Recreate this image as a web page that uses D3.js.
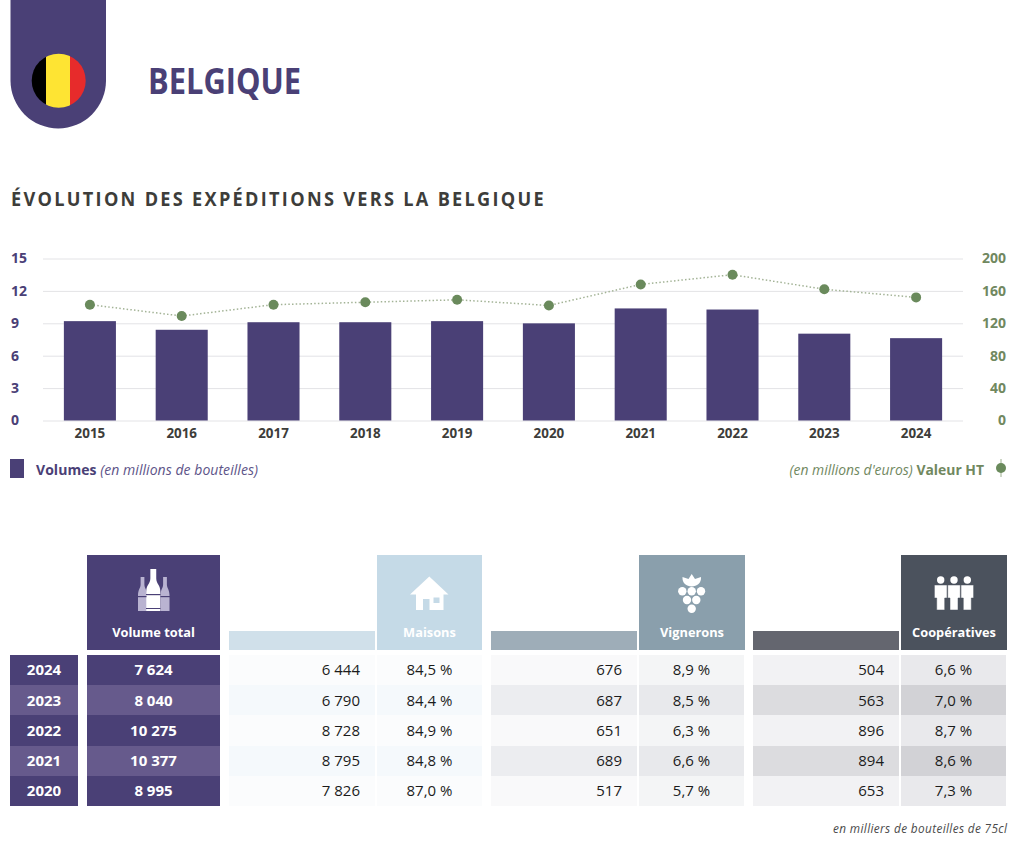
<!DOCTYPE html>
<html><head><meta charset="utf-8">
<script src="https://cdn.jsdelivr.net/npm/d3@7"></script>
<style>
html,body{margin:0;padding:0;background:#fff}
svg{display:block}
text{font-family:"Open Sans","Noto Sans",sans-serif}
</style></head><body>
<svg id="c" width="1031" height="851"></svg>
<script>
const years = ["2015","2016","2017","2018","2019","2020","2021","2022","2023","2024"];
const volumes = [9.2,8.4,9.1,9.1,9.2,8.995,10.377,10.275,8.04,7.624];
const valeurs = [143,129,143,146,149,142,168,180,162,152];
const leftTicks = [0,3,6,9,12,15];
const rightTicks = [0,40,80,120,160,200];

const tableYears = ["2024","2023","2022","2021","2020"];
const totals = ["7 624","8 040","10 275","10 377","8 995"];
const maisonsVol = ["6 444","6 790","8 728","8 795","7 826"];
const maisonsPct = ["84,5 %","84,4 %","84,9 %","84,8 %","87,0 %"];
const vigneronsVol = ["676","687","651","689","517"];
const vigneronsPct = ["8,9 %","8,5 %","6,3 %","6,6 %","5,7 %"];
const coopVol = ["504","563","896","894","653"];
const coopPct = ["6,6 %","7,0 %","8,7 %","8,6 %","7,3 %"];

const PURPLE="#4a4076", PURPLE2="#665a8c", GREEN="#6a8a5c", GREEN_T="#71885f", DARK="#3d3d3a";
const svg=d3.select("#c");

// Badge + flag
svg.append("path").attr("d","M10.5,0H106V80.5A47.75,48 0 0 1 10.5,80.5Z").attr("fill",PURPLE);
const defs=svg.append("defs");
defs.append("clipPath").attr("id","flag").append("circle").attr("cx",58.7).attr("cy",80.7).attr("r",27);
const flag=svg.append("g").attr("clip-path","url(#flag)");
flag.append("rect").attr("x",30).attr("y",50).attr("width",16).attr("height",62).attr("fill","#000");
flag.append("rect").attr("x",46).attr("y",50).attr("width",24).attr("height",62).attr("fill","#fee433");
flag.append("rect").attr("x",70).attr("y",50).attr("width",18).attr("height",62).attr("fill","#e72b2b");

svg.append("text").attr("x",148).attr("y",94).attr("fill",PURPLE)
  .attr("font-size",35).attr("font-weight",700).attr("textLength",153).attr("lengthAdjust","spacingAndGlyphs").text("BELGIQUE");
svg.append("text").attr("x",11).attr("y",206).attr("fill",DARK)
  .attr("font-size",19).attr("font-weight",700).attr("textLength",535).attr("lengthAdjust","spacingAndGlyphs").attr("letter-spacing",2.4).text("ÉVOLUTION DES EXPÉDITIONS VERS LA BELGIQUE");

// Chart
const x=d3.scaleBand().domain(years).range([44,962]).paddingInner(0.433).paddingOuter(0.2165);
const yL=d3.scaleLinear().domain([0,15]).range([420.5,258.5]);
const yR=d3.scaleLinear().domain([0,200]).range([420.5,258.5]);

const gL=svg.append("g").attr("transform","translate(43,0)")
  .call(d3.axisLeft(yL).tickValues(leftTicks).tickSize(-920).tickFormat(d3.format("d")));
gL.select(".domain").remove();
gL.selectAll("line").attr("stroke","#e3e3e6").attr("stroke-width",1);
gL.selectAll("text").attr("x",-32).attr("text-anchor","start").attr("font-size",14).attr("font-weight",700)
  .attr("fill",PURPLE).style("font-family",'"Open Sans"');

const gR=svg.append("g").attr("transform","translate(963,0)")
  .call(d3.axisRight(yR).tickValues(rightTicks).tickSize(0).tickFormat(d3.format("d")));
gR.select(".domain").remove();
gR.selectAll("text").attr("x",43).attr("text-anchor","end").attr("font-size",14).attr("font-weight",700)
  .attr("fill",GREEN_T).style("font-family",'"Open Sans"');

svg.append("g").selectAll("rect").data(years).join("rect")
  .attr("x",d=>x(d)).attr("width",x.bandwidth())
  .attr("y",(d,i)=>yL(volumes[i])).attr("height",(d,i)=>yL(0)-yL(volumes[i]))
  .attr("fill",PURPLE);

const gX=svg.append("g").attr("transform","translate(0,420.5)")
  .call(d3.axisBottom(x).tickSize(0).tickPadding(8));
gX.select(".domain").remove();
gX.selectAll("text").attr("font-size",13.4).attr("font-weight",700).attr("fill",DARK).style("font-family",'"Open Sans"');

const line=d3.line().x((d,i)=>x(years[i])+x.bandwidth()/2).y(d=>yR(d));
svg.append("path").datum(valeurs).attr("d",line).attr("fill","none")
  .attr("stroke","#a3b396").attr("stroke-width",1.5).attr("stroke-dasharray","1.5 2.2");
svg.append("g").selectAll("circle").data(valeurs).join("circle")
  .attr("cx",(d,i)=>x(years[i])+x.bandwidth()/2).attr("cy",d=>yR(d)).attr("r",5).attr("fill",GREEN);

// Legends
svg.append("rect").attr("x",10).attr("y",459).attr("width",14).attr("height",19).attr("fill",PURPLE);
const lt=svg.append("text").attr("x",36).attr("y",475).attr("font-size",14).attr("fill",PURPLE)
  .attr("textLength",222).attr("lengthAdjust","spacing");
lt.append("tspan").attr("font-weight",700).text("Volumes ");
lt.append("tspan").attr("font-style","italic").attr("fill","#5d5488").text("(en millions de bouteilles)");
const rt=svg.append("text").attr("x",984).attr("y",475).attr("text-anchor","end").attr("font-size",13.9).attr("fill",GREEN_T);
rt.append("tspan").attr("font-style","italic").text("(en millions d'euros) ");
rt.append("tspan").attr("font-weight",700).text("Valeur HT");
svg.append("line").attr("x1",1001).attr("x2",1001).attr("y1",459).attr("y2",477).attr("stroke","#9cae8e").attr("stroke-width",1);
svg.append("circle").attr("cx",1001).attr("cy",468).attr("r",5).attr("fill",GREEN);

// Table
const rowY=d3.scaleBand().domain(tableYears).range([655,806]);
const rowFontSize=15;
const columns=[
 {x:10,w:68,vals:tableYears,bg:[PURPLE,PURPLE2],fill:"#fff",weight:700,anchor:"middle"},
 {x:87,w:133,vals:totals,bg:[PURPLE,PURPLE2],fill:"#fff",weight:700,anchor:"middle"},
 {x:229,w:146,vals:maisonsVol,bg:["#fbfcfd","#f5f9fc"],fill:"#1c1c1c",weight:400,anchor:"end",pad:15},
 {x:377,w:105,vals:maisonsPct,bg:["#fbfcfd","#f5f9fc"],fill:"#1c1c1c",weight:400,anchor:"middle"},
 {x:491,w:146,vals:vigneronsVol,bg:["#f9f9fa","#ecedf0"],fill:"#1c1c1c",weight:400,anchor:"end",pad:15},
 {x:639,w:105,vals:vigneronsPct,bg:["#f4f5f6","#e8e9ec"],fill:"#1c1c1c",weight:400,anchor:"middle"},
 {x:753,w:146,vals:coopVol,bg:["#f2f2f4","#dcdcdf"],fill:"#1c1c1c",weight:400,anchor:"end",pad:15},
 {x:901,w:105,vals:coopPct,bg:["#e9e9ec","#d2d2d6"],fill:"#1c1c1c",weight:400,anchor:"middle"}
];
columns.forEach(c=>{
  const g=svg.append("g");
  g.selectAll("rect").data(c.vals).join("rect")
    .attr("x",c.x).attr("width",c.w).attr("y",(d,i)=>rowY(tableYears[i])).attr("height",rowY.bandwidth())
    .attr("shape-rendering","crispEdges")
    .attr("fill",(d,i)=>c.bg[i%2]);
  g.selectAll("text").data(c.vals).join("text")
    .attr("x",c.anchor==="end"?c.x+c.w-c.pad:c.x+c.w/2)
    .attr("y",(d,i)=>rowY(tableYears[i])+rowY.bandwidth()/2+5.3)
    .attr("text-anchor",c.anchor).attr("font-size",rowFontSize).attr("font-weight",c.weight)
    .attr("fill",c.fill).text(d=>d);
});

// Headers
const headers=[
 {x:87,w:133,bg:PURPLE,label:"Volume total"},
 {x:377,w:105,bg:"#c5dae7",label:"Maisons",short:{x:229,w:146,bg:"#d0e0ea"}},
 {x:639,w:106,bg:"#8a9fac",label:"Vignerons",short:{x:491,w:146,bg:"#9eadb8"}},
 {x:901,w:106,bg:"#4b525d",label:"Coopératives",short:{x:753,w:146,bg:"#64666f"}}
];
headers.forEach(h=>{
  svg.append("rect").attr("x",h.x).attr("y",555).attr("width",h.w).attr("height",95).attr("fill",h.bg);
  if(h.short) svg.append("rect").attr("x",h.short.x).attr("y",631).attr("width",h.short.w).attr("height",19).attr("fill",h.short.bg);
  svg.append("text").attr("x",h.x+h.w/2).attr("y",637).attr("text-anchor","middle")
    .attr("font-size",12.8).attr("font-weight",700).attr("fill","#fff").text(h.label);
});

// Icons
const bottle=(cx,top,bottom,hw,fill)=>{
  const nw=hw*0.42, sh=top+(bottom-top)*0.45;
  return svg.append("path").attr("fill",fill).attr("d",
   `M${cx-nw},${top}H${cx+nw}V${top+(bottom-top)*0.22}C${cx+nw},${sh-4} ${cx+hw},${sh-3} ${cx+hw},${sh+3}V${bottom}H${cx-hw}V${sh+3}C${cx-hw},${sh-3} ${cx-nw},${sh-4} ${cx-nw},${top+(bottom-top)*0.22}Z`);
};
bottle(142.5,577,611,4.5,"#b9b3d1");
bottle(165,577,611,4.5,"#b9b3d1");
bottle(153.3,569,611,7,"#fff");
svg.append("rect").attr("x",146).attr("y",594).attr("width",14.5).attr("height",1.2).attr("fill",PURPLE);
svg.append("rect").attr("x",146).attr("y",608).attr("width",14.5).attr("height",1).attr("fill",PURPLE);
svg.append("rect").attr("x",137).attr("y",596).attr("width",9.5).attr("height",1.2).attr("fill",PURPLE);
svg.append("rect").attr("x",160.5).attr("y",596).attr("width",9.5).attr("height",1.2).attr("fill",PURPLE);

// house
svg.append("path").attr("fill","#fff").attr("d","M429.3,576.5L448.5,594.5H443.5V610H429.5V599H423V610H416V594.5H410Z");
svg.append("rect").attr("x",433.5).attr("y",597.5).attr("width",6).attr("height",5.5).attr("fill","#c5dae7");

// grapes
[[682.3,591.3],[691.7,591.3],[701,591.3],[687,600],[696.3,600],[691.7,608.7]].forEach(p=>
  svg.append("circle").attr("cx",p[0]).attr("cy",p[1]).attr("r",4.2).attr("fill","#fff"));
svg.append("path").attr("fill","#fff").attr("d","M691.7,574L695,579L701,577C701.5,583 697,586.5 691.7,586.5C686.5,586.5 682,583 682.5,577L688.5,579Z");

// people
[940.7,967.3,954].forEach(px=>{
  svg.append("circle").attr("cx",px).attr("cy",580).attr("r",3.7).attr("fill","#fff");
  svg.append("path").attr("fill","#fff").attr("stroke","#4b525d").attr("stroke-width",0.5)
   .attr("d",`M${px-6.3},585H${px+6.3}V598H${px+4}V610H${px-4}V598H${px-6.3}Z`);
});

svg.append("text").attr("x",1007).attr("y",833).attr("text-anchor","end").attr("font-size",11.8)
  .attr("font-style","italic").attr("fill","#4a4a4a").attr("textLength",174).attr("lengthAdjust","spacing").text("en milliers de bouteilles de 75cl");
</script>
</body></html>
